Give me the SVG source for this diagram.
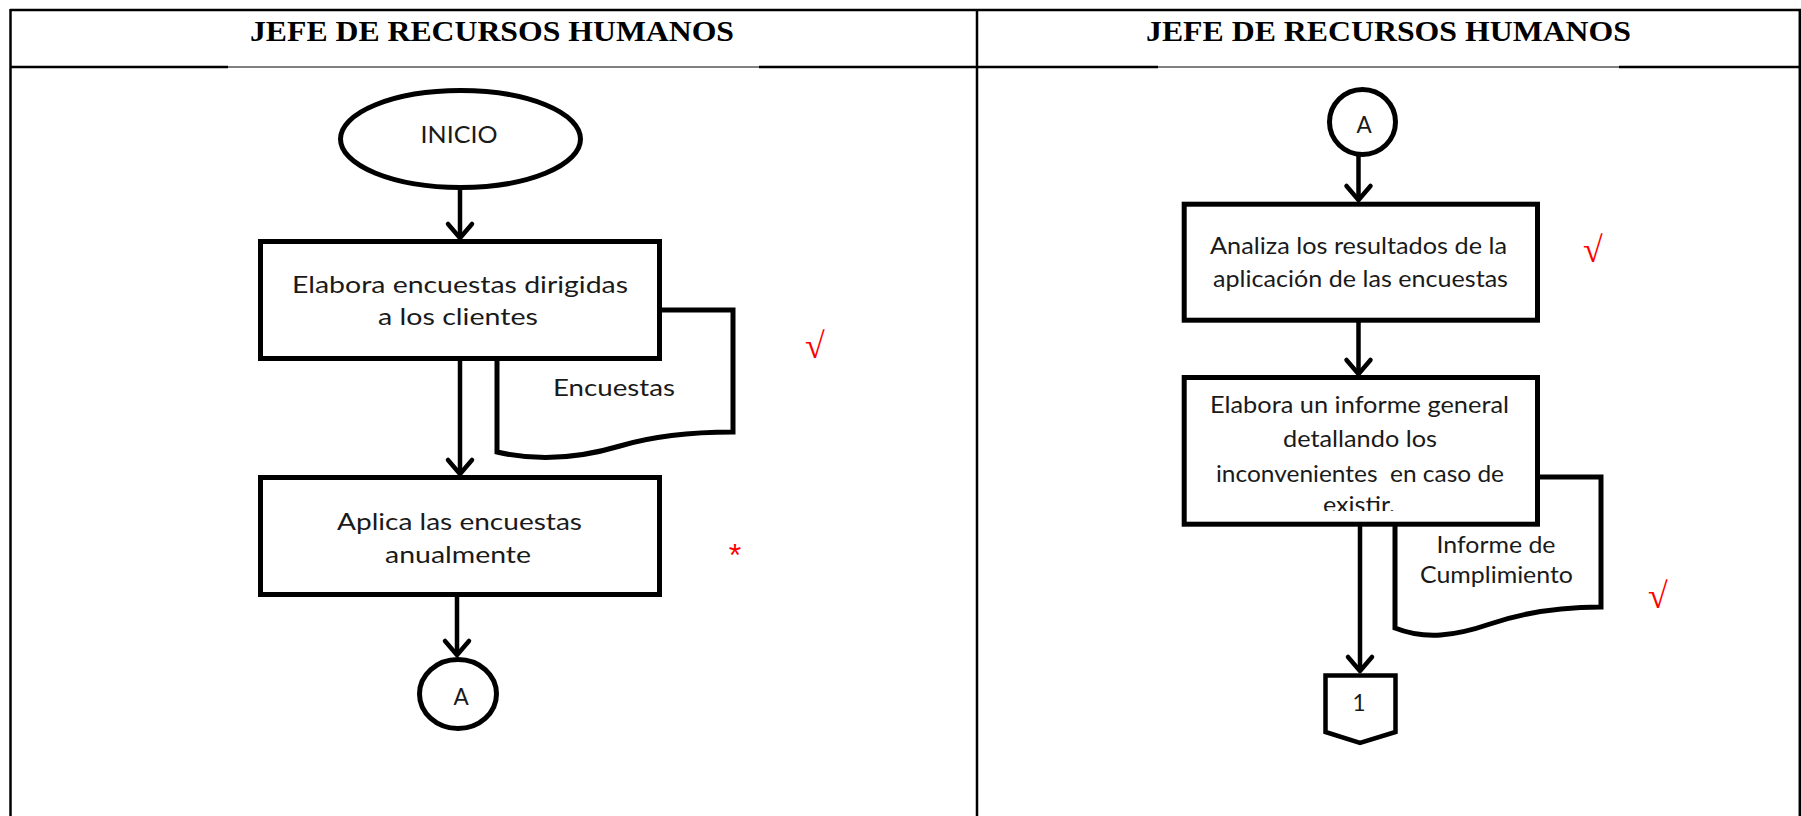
<svg xmlns="http://www.w3.org/2000/svg" width="1801" height="816" viewBox="0 0 1801 816">
<style>
.tl{stroke:#000;stroke-width:2.5;fill:none}
.tt{stroke:#000;stroke-width:1;fill:none}
.title{font-family:"Liberation Serif","Times New Roman",serif;font-weight:bold;font-size:30px;fill:#000}
.shape{fill:#fff;stroke:#000;stroke-width:5}
.lbl{font-family:Lato,"Liberation Sans",sans-serif;fill:#1a1a1a;text-anchor:middle}
.l23{font-size:24px}
.l21{font-size:22.5px}
.con{stroke:#000;stroke-width:4.5;fill:none}
.chk{font-family:"Liberation Serif","DejaVu Serif",serif;fill:#ff0000}
</style>
<defs>
<marker id="arr" markerUnits="userSpaceOnUse" markerWidth="40" markerHeight="40" refX="0" refY="0" orient="auto" style="overflow:visible">
<path d="M-14,-12 L0,0 L-14,12" fill="none" stroke="#000" stroke-width="4.5" stroke-linejoin="round" stroke-linecap="round"/>
</marker>
<clipPath id="clipB4"><rect x="1187" y="380" width="348" height="131"/></clipPath>
</defs>
<rect x="0" y="0" width="1801" height="816" fill="#fff"/>
<g id="table">
<line class="tl" x1="10" y1="10" x2="1801" y2="10"/>
<line class="tl" x1="10.5" y1="9" x2="10.5" y2="816"/>
<line class="tl" x1="977" y1="9" x2="977" y2="816"/>
<line class="tl" x1="1799.8" y1="9" x2="1799.8" y2="816"/>
<line class="tl" x1="10" y1="67" x2="228" y2="67"/>
<line class="tt" x1="228" y1="67" x2="759" y2="67"/>
<line class="tl" x1="759" y1="67" x2="1158" y2="67"/>
<line class="tt" x1="1158" y1="67" x2="1619" y2="67"/>
<line class="tl" x1="1619" y1="67" x2="1801" y2="67"/>
<text class="title" x="250" y="41" textLength="484" lengthAdjust="spacingAndGlyphs">JEFE DE RECURSOS HUMANOS</text>
<text class="title" x="1146" y="41" textLength="485" lengthAdjust="spacingAndGlyphs">JEFE DE RECURSOS HUMANOS</text>
</g>
<g id="connectors">
<line class="con" x1="460" y1="188" x2="460" y2="238" marker-end="url(#arr)"/>
<line class="con" x1="460" y1="358" x2="460" y2="474" marker-end="url(#arr)"/>
<line class="con" x1="457" y1="595" x2="457" y2="655" marker-end="url(#arr)"/>
<line class="con" x1="1358.5" y1="156" x2="1358.5" y2="200" marker-end="url(#arr)"/>
<line class="con" x1="1358.5" y1="322" x2="1358.5" y2="374" marker-end="url(#arr)"/>
<line class="con" x1="1360" y1="526" x2="1360" y2="671" marker-end="url(#arr)"/>
</g>
<g id="inicio">
<ellipse class="shape" cx="460.5" cy="139" rx="120" ry="48.5"/>
<text class="lbl l23" x="459" y="143" textLength="77" lengthAdjust="spacingAndGlyphs">INICIO</text>
</g>
<g id="doc-encuestas">
<path class="shape" d="M497,310 H733 V432 C700,432 660,434 620,446 C580,458 540,462 497,452 Z"/>
<text class="lbl l23" x="614" y="396" textLength="122" lengthAdjust="spacingAndGlyphs">Encuestas</text>
</g>
<g id="elabora-encuestas">
<rect class="shape" x="260.5" y="241.5" width="399" height="117"/>
<text class="lbl l23" x="460" y="293" textLength="336" lengthAdjust="spacingAndGlyphs">Elabora encuestas dirigidas</text>
<text class="lbl l23" x="458" y="325" textLength="160" lengthAdjust="spacingAndGlyphs">a los clientes</text>
</g>
<g id="aplica-encuestas">
<rect class="shape" x="260.5" y="477.5" width="399" height="117"/>
<text class="lbl l23" x="459.5" y="530" textLength="245" lengthAdjust="spacingAndGlyphs">Aplica las encuestas</text>
<text class="lbl l23" x="458" y="563" textLength="146" lengthAdjust="spacingAndGlyphs">anualmente</text>
</g>
<g id="conector-a-left">
<ellipse class="shape" cx="458" cy="694" rx="38.5" ry="34.5"/>
<text class="lbl l21" x="461" y="705">A</text>
</g>
<g id="conector-a-right">
<ellipse class="shape" cx="1362.5" cy="122" rx="33" ry="32.5"/>
<text class="lbl l21" x="1364" y="133">A</text>
</g>
<g id="analiza-resultados">
<rect class="shape" x="1184.2" y="204.2" width="353.3" height="116"/>
<text class="lbl l21" x="1358.5" y="254" textLength="297" lengthAdjust="spacingAndGlyphs">Analiza los resultados de la</text>
<text class="lbl l21" x="1360.5" y="287" textLength="295" lengthAdjust="spacingAndGlyphs">aplicación de las encuestas</text>
</g>
<g id="doc-informe">
<path class="shape" d="M1395,477 H1601 V607 C1560,607 1525,612 1490,624 C1455,636 1425,640 1395,628 Z"/>
<text class="lbl l21" x="1496" y="553" textLength="119" lengthAdjust="spacingAndGlyphs">Informe de</text>
<text class="lbl l21" x="1496.5" y="583" textLength="153" lengthAdjust="spacingAndGlyphs">Cumplimiento</text>
</g>
<g id="elabora-informe">
<rect class="shape" x="1184.2" y="377.5" width="353.3" height="146.7"/>
<g clip-path="url(#clipB4)">
<text class="lbl l21" x="1359.5" y="413" textLength="299" lengthAdjust="spacingAndGlyphs">Elabora un informe general</text>
<text class="lbl l21" x="1360" y="447" textLength="154" lengthAdjust="spacingAndGlyphs">detallando los</text>
<text class="lbl l21" x="1360" y="482" textLength="288" lengthAdjust="spacingAndGlyphs" xml:space="preserve">inconvenientes  en caso de</text>
<text class="lbl l21" x="1359" y="512.5" textLength="72" lengthAdjust="spacingAndGlyphs">existir.</text>
</g>
</g>
<g id="conector-1">
<polygon class="shape" style="stroke-width:4.5" points="1325.5,675.5 1395.5,675.5 1395.5,732 1360,743 1325.5,732"/>
<text class="lbl l21" x="1359" y="711">1</text>
</g>
<g id="marks">
<text class="chk" x="805" y="358" font-size="36">√</text>
<text class="chk" x="1583" y="262" font-size="36">√</text>
<text class="chk" x="1648" y="608" font-size="36">√</text>
<text x="735" y="566" font-family="Liberation Sans, Arial, sans-serif" font-size="32" fill="#ff0000" text-anchor="middle">*</text>
</g>
</svg>
